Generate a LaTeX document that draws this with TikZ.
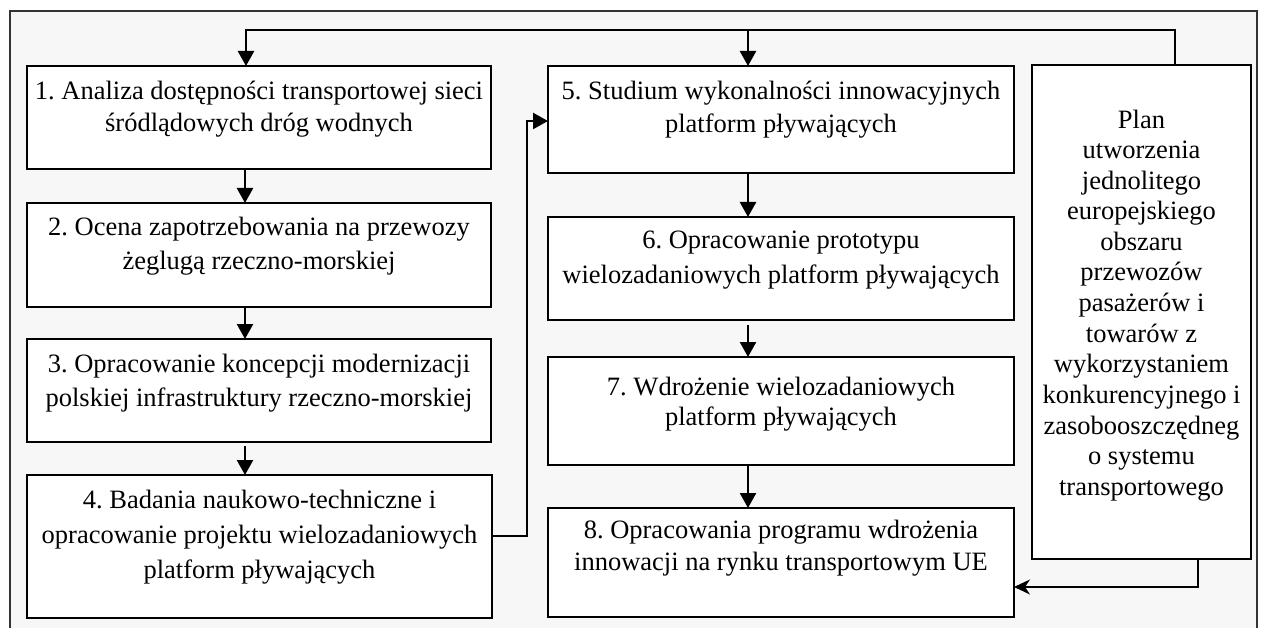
\documentclass[tikz,border=0pt]{standalone}
\usepackage{fontspec}
\setmainfont{Liberation Serif}
\usetikzlibrary{arrows.meta}
\newcommand{\bxt}[5]{\parbox[c][#2][t]{#1}{\frenchspacing\centering\fontsize{26.5pt}{#4}\selectfont\vspace*{\dimexpr#3-20pt\relax}\rule{0pt}{20pt}#5\par}}
\begin{document}
\begin{tikzpicture}[x=1pt,y=-1pt,
  stepbox/.style={draw=black, line width=2.6pt, fill=white, inner sep=0pt, outer sep=0pt},
  conn/.style={draw=black, line width=2.4pt, -{Triangle[length=15pt,width=16pt]}},
  thinconn/.style={draw=black, line width=1.4pt, -{Stealth[length=16pt,width=15pt,inset=5pt]}},
  plainconn/.style={draw=black, line width=2.4pt}]
\useasboundingbox (0,0) rectangle (1266,628);
\clip (0,0) rectangle (1266,628);
\fill[white] (0,0) rectangle (1266,628);
\filldraw[fill=black!3, draw=black!80, line width=1.5pt] (10,11) rectangle (1257,650);

% left column
\node[stepbox] (b1) at (259,117.5) {\bxt{464pt}{103pt}{34pt}{32pt}{1. Analiza dostępności transportowej sieci\\ śródlądowych dróg wodnych}};
\node[stepbox] (b2) at (259,255) {\bxt{464pt}{104pt}{33pt}{34pt}{2. Ocena zapotrzebowania na przewozy\\ żeglugą rzeczno-morskiej}};
\node[stepbox] (b3) at (259,390.5) {\bxt{464pt}{103pt}{33pt}{34pt}{3. Opracowanie koncepcji modernizacji\\ polskiej infrastruktury rzeczno-morskiej}};
\node[stepbox] (b4) at (259.5,546.5) {\bxt{465pt}{143pt}{33pt}{35pt}{4. Badania naukowo-techniczne i\\ opracowanie projektu wielozadaniowych\\ platform pływających}};

% middle column
\node[stepbox] (b5) at (781,119.5) {\bxt{466pt}{107pt}{34pt}{33pt}{5. Studium wykonalności innowacyjnych\\ platform pływających}};
\node[stepbox] (b6) at (781,268.5) {\bxt{466pt}{103pt}{32pt}{35pt}{6. Opracowanie prototypu\\ wielozadaniowych platform pływających}};
\node[stepbox] (b7) at (781,411) {\bxt{466pt}{108pt}{38pt}{30pt}{7. Wdrożenie wielozadaniowych\\ platform pływających}};
\node[stepbox] (b8) at (781,562.5) {\bxt{466pt}{109pt}{30pt}{32pt}{8. Opracowania programu wdrożenia\\ innowacji na rynku transportowym UE}};

% right box
\node[stepbox] (r) at (1141.5,312) {\bxt{219pt}{494pt}{63pt}{30.6pt}{Plan\\ utworzenia\\ jednolitego\\ europejskiego\\ obszaru\\ przewozów\\ pasażerów i\\ towarów z\\ wykorzystaniem\\ konkurencyjnego i\\ zasobooszczędneg\\ o systemu\\ transportowego}};

% coordinates
\coordinate (tr) at (1175,30);
\coordinate (tl) at (246,30);
\coordinate (tm) at (748,30);
\coordinate (ax) at (245,0);
\coordinate (mx) at (748,0);
\coordinate (c4a) at (527,536);
\coordinate (c4b) at (527,121);
\coordinate (rb) at (1198,587);

% feedback from plan
\draw[conn] (tr |- r.north) -- (tr) -- (tl) -- (tl |- b1.north);
\draw[conn] (tm) -- (tm |- b5.north);

% left column flow
\draw[conn] (b1.south -| ax) -- (b2.north -| ax);
\draw[conn] (b2.south -| ax) -- (b3.north -| ax);
\draw[conn, shorten <=4pt] (b3.south -| ax) -- (b4.north -| ax);

% 4 -> 5
\draw[conn] (c4a -| b4.east) -- (c4a) -- (c4b) -- (c4b -| b5.west);

% middle column flow
\draw[conn] (b5.south -| mx) -- (b6.north -| mx);
\draw[conn, shorten <=5pt] (b6.south -| mx) -- (b7.north -| mx);
\draw[conn] (b7.south -| mx) -- (b8.north -| mx);

% plan -> 8
\draw[thinconn] (rb |- r.south) -- (rb) -- (rb -| b8.east);
\end{tikzpicture}
\end{document}
